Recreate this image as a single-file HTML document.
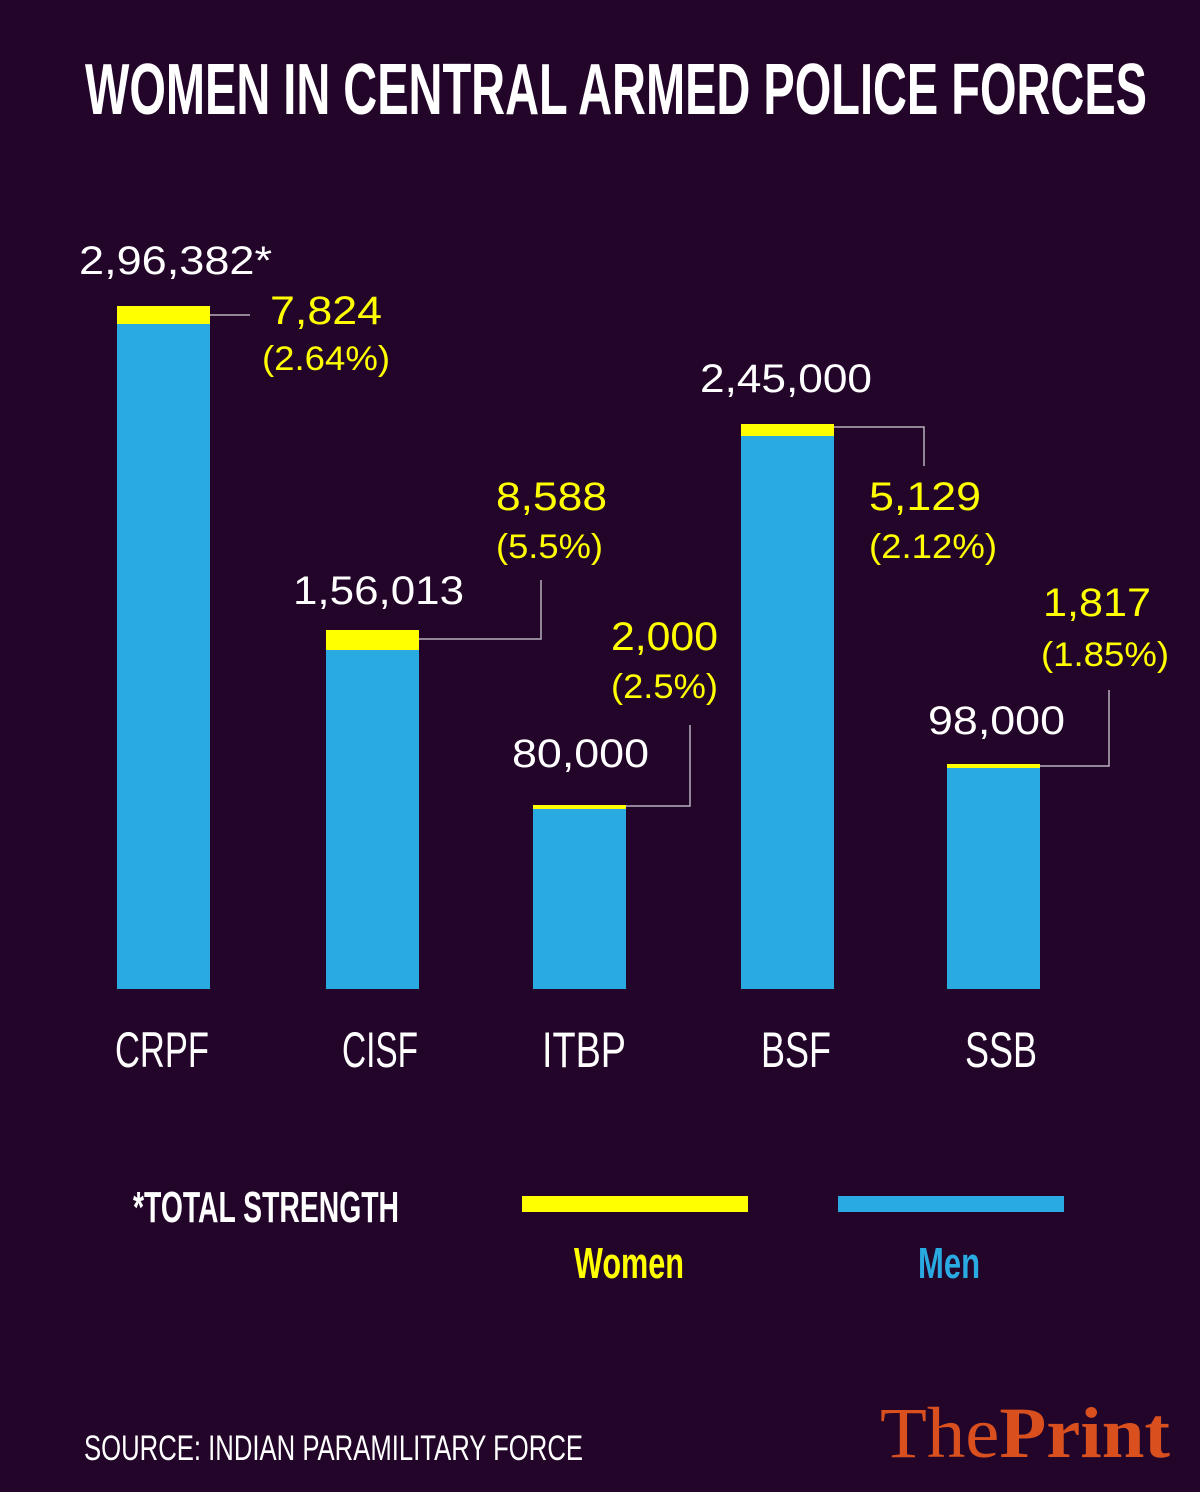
<!DOCTYPE html>
<html><head><meta charset="utf-8"><style>
html,body{margin:0;padding:0;background:#23052a;}
svg{display:block}
.n{font-family:"Liberation Sans",sans-serif;font-size:40px;fill:#fff}
.y{font-family:"Liberation Sans",sans-serif;font-size:40px;fill:#ffff00}
.p{font-family:"Liberation Sans",sans-serif;font-size:34px;fill:#ffff00}
.c{font-family:"Liberation Sans Narrow","Liberation Sans",sans-serif;fill:#fff}
</style></head><body>
<svg width="1200" height="1492" viewBox="0 0 1200 1492">
<rect width="1200" height="1492" fill="#23052a"/>
<text x="85" y="114" class="c" font-size="72" font-weight="bold" textLength="1062" lengthAdjust="spacingAndGlyphs">WOMEN IN CENTRAL ARMED POLICE FORCES</text>
<g fill="#29abe2">
<rect x="117" y="324" width="93" height="665"/>
<rect x="326" y="650" width="93" height="339"/>
<rect x="533" y="809" width="93" height="180"/>
<rect x="741" y="436" width="93" height="553"/>
<rect x="947" y="768" width="93" height="221"/>
</g>
<g fill="#ffff00">
<rect x="117" y="306" width="93" height="18"/>
<rect x="326" y="630" width="93" height="20"/>
<rect x="533" y="805" width="93" height="4"/>
<rect x="741" y="424" width="93" height="12"/>
<rect x="947" y="764" width="93" height="4"/>
</g>
<g stroke="#b8b0bc" stroke-width="1.5" fill="none">
<polyline points="210,315 250,315"/>
<polyline points="419,639 541,639 541,580"/>
<polyline points="626,806 690,806 690,725"/>
<polyline points="834,427 924,427 924,466"/>
<polyline points="1040,766 1109,766 1109,690"/>
</g>
<text x="79" y="274" class="n" textLength="193" lengthAdjust="spacingAndGlyphs">2,96,382*</text>
<text x="270" y="324" class="y" textLength="112" lengthAdjust="spacingAndGlyphs">7,824</text>
<text x="262" y="370" class="p" textLength="128" lengthAdjust="spacingAndGlyphs">(2.64%)</text>
<text x="293" y="604" class="n" textLength="171" lengthAdjust="spacingAndGlyphs">1,56,013</text>
<text x="496" y="510" class="y" textLength="111" lengthAdjust="spacingAndGlyphs">8,588</text>
<text x="496" y="558" class="p" textLength="107" lengthAdjust="spacingAndGlyphs">(5.5%)</text>
<text x="512" y="767" class="n" textLength="137" lengthAdjust="spacingAndGlyphs">80,000</text>
<text x="611" y="650" class="y" textLength="107" lengthAdjust="spacingAndGlyphs">2,000</text>
<text x="611" y="698" class="p" textLength="107" lengthAdjust="spacingAndGlyphs">(2.5%)</text>
<text x="700" y="392" class="n" textLength="172" lengthAdjust="spacingAndGlyphs">2,45,000</text>
<text x="869" y="510" class="y" textLength="112" lengthAdjust="spacingAndGlyphs">5,129</text>
<text x="869" y="558" class="p" textLength="128" lengthAdjust="spacingAndGlyphs">(2.12%)</text>
<text x="928" y="734" class="n" textLength="137" lengthAdjust="spacingAndGlyphs">98,000</text>
<text x="1043" y="616" class="y" textLength="108" lengthAdjust="spacingAndGlyphs">1,817</text>
<text x="1041" y="666" class="p" textLength="128" lengthAdjust="spacingAndGlyphs">(1.85%)</text>
<g class="c" font-size="50">
<text x="115" y="1067" textLength="94" lengthAdjust="spacingAndGlyphs">CRPF</text>
<text x="342" y="1067" textLength="76" lengthAdjust="spacingAndGlyphs">CISF</text>
<text x="542" y="1067" textLength="84" lengthAdjust="spacingAndGlyphs">ITBP</text>
<text x="761" y="1067" textLength="70" lengthAdjust="spacingAndGlyphs">BSF</text>
<text x="965" y="1067" textLength="72" lengthAdjust="spacingAndGlyphs">SSB</text>
</g>
<text x="133" y="1222" class="c" font-size="44" font-weight="bold" textLength="266" lengthAdjust="spacingAndGlyphs">*TOTAL STRENGTH</text>
<rect x="522" y="1196" width="226" height="16" fill="#ffff00"/>
<rect x="838" y="1196" width="226" height="16" fill="#29abe2"/>
<text x="574" y="1278" class="c" font-size="44" font-weight="bold" fill="#ffff00" style="fill:#ffff00" textLength="110" lengthAdjust="spacingAndGlyphs">Women</text>
<text x="918" y="1278" class="c" font-size="44" font-weight="bold" style="fill:#29abe2" textLength="62" lengthAdjust="spacingAndGlyphs">Men</text>
<text x="84" y="1460" class="c" font-size="35" textLength="499" lengthAdjust="spacingAndGlyphs">SOURCE: INDIAN PARAMILITARY FORCE</text>
<text x="880" y="1457" font-family="Liberation Serif,serif" font-size="72" font-weight="bold" fill="#d9501e" textLength="290" lengthAdjust="spacingAndGlyphs"><tspan font-weight="normal">The</tspan>Print</text>
</svg>
</body></html>
